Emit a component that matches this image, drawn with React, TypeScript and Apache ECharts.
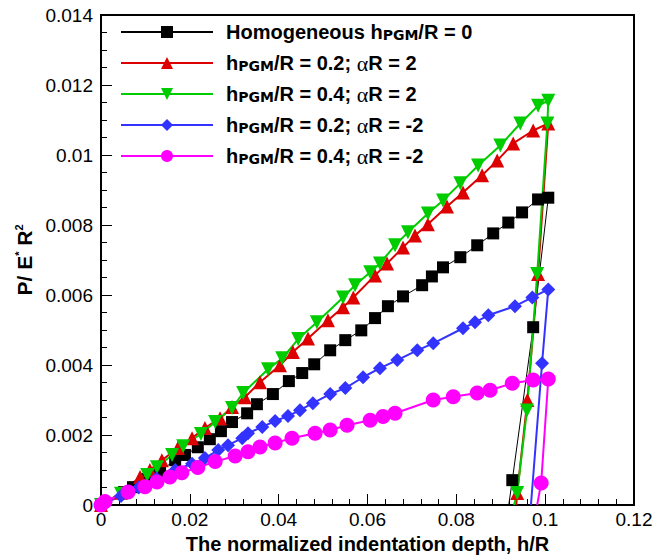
import React, { useEffect, useRef } from "react";
import * as echarts from "echarts";

// x = h/R, y = P/(E* R^2)
const homLoad: number[][] = [
  [0, 0], [0.0052, 0.00037], [0.0072, 0.00051], [0.0104, 0.00074], [0.0133, 0.00097],
  [0.0167, 0.00128], [0.0189, 0.00143], [0.0218, 0.00165], [0.0245, 0.00188], [0.027, 0.00211],
  [0.0295, 0.00237], [0.0329, 0.00262], [0.0351, 0.00288], [0.0387, 0.00317], [0.0423, 0.00354],
  [0.0453, 0.00377], [0.048, 0.00402], [0.0516, 0.00442], [0.055, 0.00471], [0.0586, 0.00499],
  [0.0617, 0.00534], [0.0646, 0.00568], [0.068, 0.00596], [0.0723, 0.00628], [0.0745, 0.00653],
  [0.077, 0.00679], [0.0809, 0.00708], [0.0847, 0.00742], [0.0883, 0.00776], [0.0917, 0.00807],
  [0.0948, 0.00836], [0.0984, 0.00873], [0.1007, 0.00878],
];
const homUnload: number[][] = [[0.0973, 0.00508], [0.0926, 0.00071], [0.0918, 0]];

const r02pLoad: number[][] = [
  [0, 0], [0.0045, 0.00035], [0.0088, 0.0008], [0.011, 0.001], [0.0137, 0.00128],
  [0.0173, 0.00163], [0.0205, 0.00191], [0.0234, 0.0022], [0.0268, 0.00248], [0.0295, 0.0028],
  [0.0324, 0.00308], [0.0358, 0.00351], [0.0403, 0.00399], [0.0432, 0.00437], [0.0466, 0.00476],
  [0.0511, 0.00528], [0.0545, 0.00565], [0.0568, 0.00593], [0.0617, 0.00656], [0.0644, 0.0069],
  [0.068, 0.00736], [0.0707, 0.0077], [0.0736, 0.00802], [0.0779, 0.00853], [0.0815, 0.00893],
  [0.0858, 0.00942], [0.0892, 0.00984], [0.0928, 0.01033], [0.0973, 0.0107], [0.1007, 0.0109],
];
const r02pUnload: number[][] = [[0.0984, 0.0066], [0.096, 0.003], [0.0937, 0.00034], [0.0935, 0]];

const r04pLoad: number[][] = [
  [0, 0], [0.0045, 0.00032], [0.0104, 0.00086], [0.0126, 0.00108], [0.016, 0.00143],
  [0.0185, 0.00168], [0.0225, 0.00203], [0.0257, 0.00237], [0.0295, 0.00277], [0.032, 0.0032],
  [0.0376, 0.00388], [0.0408, 0.00419], [0.0444, 0.00474], [0.0486, 0.00522], [0.0545, 0.00593],
  [0.0572, 0.00628], [0.0606, 0.00665], [0.0628, 0.0069], [0.0662, 0.00742], [0.0691, 0.00779],
  [0.0736, 0.00833], [0.077, 0.0087], [0.0809, 0.00919], [0.0849, 0.0097], [0.0899, 0.01027],
  [0.0944, 0.0109], [0.0984, 0.01141], [0.1007, 0.01155],
];
const r04pUnload: number[][] = [[0.1005, 0.0109], [0.0982, 0.0066], [0.0959, 0.0027], [0.0937, 0.00034], [0.093, 0]];

const r02nLoad: number[][] = [
  [0, 0], [0.0045, 0.00026], [0.0085, 0.0005], [0.0125, 0.00076], [0.0167, 0.001],
  [0.0205, 0.00118], [0.0234, 0.00134], [0.0264, 0.00157], [0.0286, 0.00171], [0.0318, 0.00191],
  [0.0331, 0.00205], [0.0363, 0.00223], [0.0392, 0.0024], [0.0421, 0.00254], [0.0448, 0.00271],
  [0.0477, 0.00291], [0.0516, 0.00317], [0.055, 0.00334], [0.059, 0.00365], [0.0628, 0.00391],
  [0.0667, 0.00414], [0.0712, 0.00442], [0.0748, 0.00462], [0.0815, 0.00505], [0.0842, 0.00522],
  [0.0872, 0.00542], [0.0932, 0.00568], [0.0971, 0.00593], [0.1007, 0.00616],
];
const r02nUnload: number[][] = [[0.0993, 0.00405], [0.0968, 0]];

const r04nLoad: number[][] = [
  [0, 0], [0.0009, 0.0001], [0.0061, 0.00037], [0.0099, 0.00052], [0.0126, 0.00066],
  [0.0155, 0.0008], [0.0182, 0.00092], [0.0218, 0.00107], [0.0257, 0.00124], [0.0302, 0.0014],
  [0.0331, 0.00152], [0.0358, 0.00166], [0.0392, 0.00177], [0.043, 0.00191], [0.0482, 0.00205],
  [0.0516, 0.00214], [0.0554, 0.00228], [0.0606, 0.00242], [0.0635, 0.00253], [0.0662, 0.00262],
  [0.0748, 0.003], [0.0793, 0.00309], [0.0847, 0.0032], [0.0876, 0.00328], [0.0926, 0.00348],
  [0.0973, 0.00357], [0.1007, 0.0036],
];
const r04nUnload: number[][] = [[0.0991, 0.00063], [0.0982, 0]];

const seriesNames = ["hom", "r02p", "r04p", "r02n", "r04n"];
const legendLabels: Record<string, string> = {
  hom: "{b|Homogeneous h}{s|PGM}{b|/R = 0}",
  r02p: "{b|h}{s|PGM}{b|/R = 0.2; }{a|α}{b|R = 2}",
  r04p: "{b|h}{s|PGM}{b|/R = 0.4; }{a|α}{b|R = 2}",
  r02n: "{b|h}{s|PGM}{b|/R = 0.2; }{a|α}{b|R = -2}",
  r04n: "{b|h}{s|PGM}{b|/R = 0.4; }{a|α}{b|R = -2}",
};
const xTicks = { min: 0, max: 0.12, interval: 0.02 };
const yTicks = { min: 0, max: 0.014, interval: 0.002 };

const FONT = "Liberation Sans";

function buildData(load: number[][], unload: number[][]) {
  const all = load.concat(unload);
  return all.map((p, i) =>
    i === all.length - 1 ? { value: p, symbol: "none" } : { value: p }
  );
}

export default function App() {
  const ref = useRef<HTMLDivElement>(null);
  useEffect(() => {
    if (!ref.current) return;
    document.body.style.margin = "0";
    document.body.style.overflow = "hidden";
    const chart = echarts.init(ref.current, undefined, { renderer: "svg" });
    const mk = (
      name: string,
      load: number[][],
      unload: number[][],
      color: string,
      symbol: string,
      size: number,
      width: number,
      rotate = 0
    ) => ({
      name,
      type: "line",
      data: buildData(load, unload),
      symbol,
      symbolSize: size,
      symbolRotate: rotate,
      showAllSymbol: true,
      color,
      lineStyle: { color, width },
      itemStyle: { color, borderWidth: 0 },
      clip: true,
    });
    chart.setOption({
      animation: false,
      grid: {
        left: 101,
        right: 36,
        top: 15,
        bottom: 50,
        containLabel: false,
        outerBoundsMode: "none",
        show: true,
        borderColor: "#000",
        borderWidth: 2,
        backgroundColor: "transparent",
      },
      legend: {
        data: seriesNames,
        orient: "vertical",
        left: 115,
        top: 17,
        itemWidth: 92,
        itemHeight: 15,
        itemGap: 9,
        formatter: (n: string) => legendLabels[n],
        textStyle: {
          padding: [0, 0, 0, 8],
          rich: {
            b: { fontFamily: FONT, fontWeight: "bold", fontSize: 20, lineHeight: 22, color: "#000" },
            s: {
              fontFamily: "DejaVu Sans",
              fontWeight: "bold",
              fontSize: 14,
              lineHeight: 22,
              color: "#000",
              verticalAlign: "bottom",
              padding: [0, 0, 1, 0],
            },
            a: { fontFamily: "Liberation Serif", fontSize: 22, lineHeight: 22, color: "#000" },
          },
        },
      },
      xAxis: {
        type: "value",
        ...xTicks,
        name: "The normalized indentation depth, h/R",
        nameLocation: "middle",
        nameGap: 14,
        nameTextStyle: {
          fontFamily: FONT,
          fontWeight: "bold",
          fontSize: 20,
          lineHeight: 20,
          color: "#000",
        },
        axisLine: { lineStyle: { color: "#000", width: 2 } },
        axisTick: { inside: true, length: 11, lineStyle: { color: "#000" } },
        minorTick: { show: true, splitNumber: 5, length: 6, lineStyle: { color: "#000" } },
        splitLine: { show: false },
        axisLabel: {
          fontFamily: FONT,
          fontSize: 19,
          color: "#000",
          margin: 5,
          formatter: (v: number) => String(+v.toFixed(3)),
        },
      },
      yAxis: {
        type: "value",
        ...yTicks,
        name: "{t|P/ E}{u|*}{t| R}{u|2}",
        nameLocation: "middle",
        nameGap: 66,
        nameTextStyle: {
          rich: {
            t: { fontFamily: FONT, fontWeight: "bold", fontSize: 21, color: "#000" },
            u: {
              fontFamily: FONT,
              fontWeight: "bold",
              fontSize: 11,
              color: "#000",
              verticalAlign: "top",
            },
          },
        },
        axisLine: { lineStyle: { color: "#000", width: 2 } },
        axisTick: { inside: true, length: 11, lineStyle: { color: "#000" } },
        minorTick: { show: true, splitNumber: 4, length: 6, lineStyle: { color: "#000" } },
        splitLine: { show: false },
        axisLabel: {
          fontFamily: FONT,
          fontSize: 19,
          color: "#000",
          margin: 8,
          formatter: (v: number) => String(+v.toFixed(3)),
        },
      },
      series: [
        mk("hom", homLoad, homUnload, "#000000", "rect", 12, 1),
        mk("r02p", r02pLoad, r02pUnload, "#dd0000", "triangle", 14, 2),
        mk("r04p", r04pLoad, r04pUnload, "#00cc00", "triangle", 14, 2, 180),
        mk("r02n", r02nLoad, r02nUnload, "#3333ff", "diamond", 14, 2),
        mk("r04n", r04nLoad, r04nUnload, "#ff00ff", "circle", 15, 2),
      ],
    });
    return () => chart.dispose();
  }, []);
  return <div ref={ref} style={{ width: 670, height: 555 }} />;
}
